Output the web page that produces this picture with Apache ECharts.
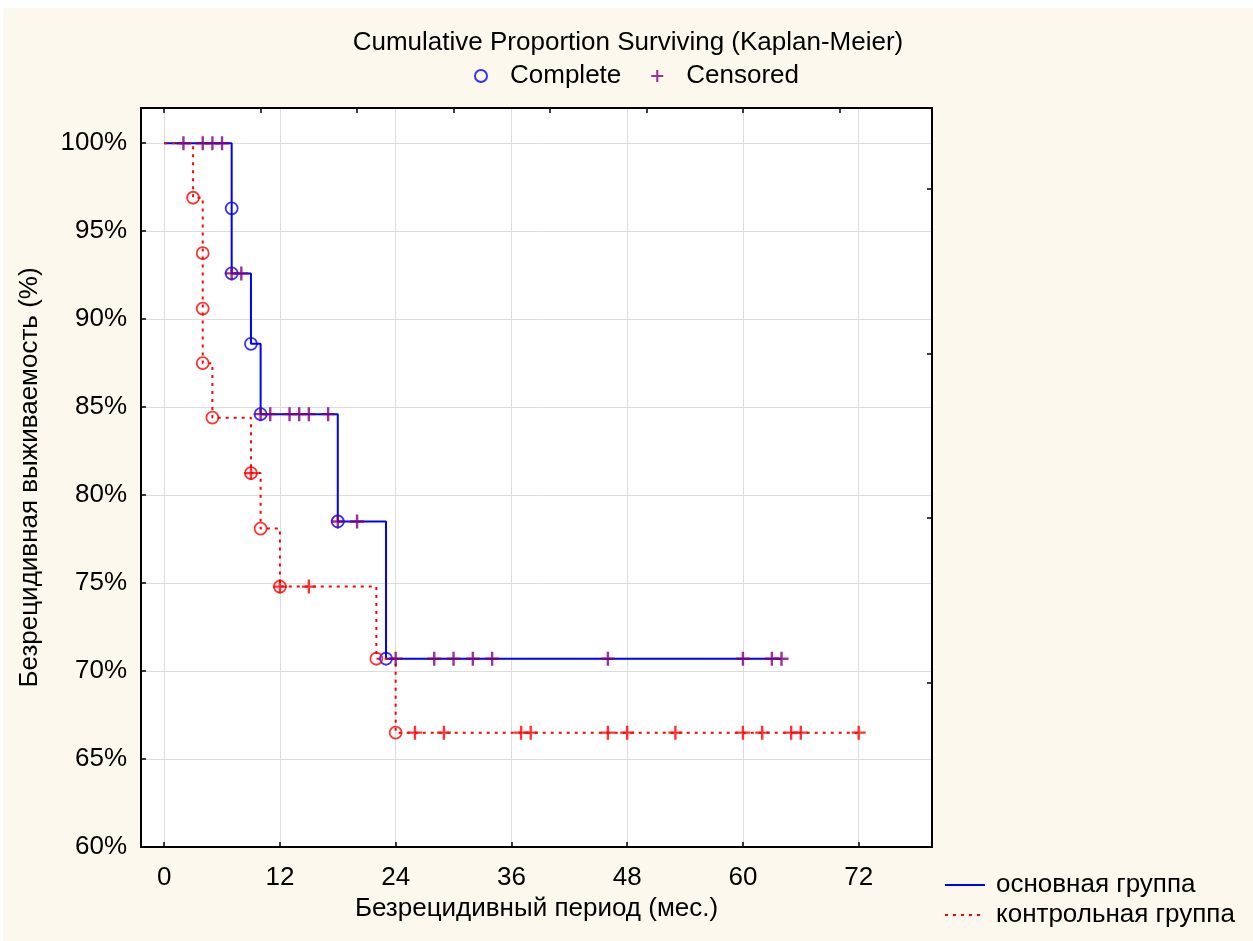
<!DOCTYPE html>
<html>
<head>
<meta charset="utf-8">
<script src="https://cdn.jsdelivr.net/npm/echarts@6/dist/echarts.min.js"></script>
<style>
html, body { margin: 0; padding: 0; background: #fff; }
#chart { position: absolute; left: 3px; top: 8px; width: 1250px; height: 933px; }
</style>
</head>
<body>
<div id="chart"></div>
<script>
// основная группа (main group): step curve, events, censored times
var mainCurve = [[0, 100], [7, 92.6], [9, 88.6], [10, 84.6], [18, 78.5], [23, 70.7], [64, 70.7]];
var mainComplete = [[7, 96.3], [7, 92.6], [9, 88.6], [10, 84.6], [18, 78.5], [23, 70.7]];
var mainCensored = [[2, 100], [4, 100], [5, 100], [6, 100], [7, 92.6], [8, 92.6],
    [10, 84.6], [11, 84.6], [13, 84.6], [14, 84.6], [15, 84.6], [17, 84.6],
    [18, 78.5], [20, 78.5], [24, 70.7], [28, 70.7], [30, 70.7], [32, 70.7], [34, 70.7],
    [46, 70.7], [60, 70.7], [63, 70.7], [64, 70.7]];

// контрольная группа (control group)
var ctrlCurve = [[0, 100], [3, 96.9], [4, 87.5], [5, 84.4], [9, 81.25], [10, 78.1], [12, 74.8], [22, 70.7], [24, 66.5], [72, 66.5]];
var ctrlComplete = [[3, 96.9], [4, 93.75], [4, 90.6], [4, 87.5], [5, 84.4], [9, 81.25], [10, 78.1], [12, 74.8], [22, 70.7], [24, 66.5]];
var ctrlCensored = [[9, 81.25], [12, 74.8], [15, 74.8], [26, 66.5], [29, 66.5], [37, 66.5], [38, 66.5],
    [46, 66.5], [48, 66.5], [53, 66.5], [60, 66.5], [62, 66.5], [65, 66.5], [66, 66.5], [72, 66.5]];

var xTicks = [0, 12, 24, 36, 48, 60, 72];
var xTopTicks = [0, 10, 20, 30, 40, 50, 60, 70];
var yTicks = [60, 65, 70, 75, 80, 85, 90, 95, 100];
var yRightTicks = [69.35, 78.7, 88.05, 97.4];

var FONT = 'Liberation Sans, Arial, sans-serif';
var FS = 26;
var plusPath = 'path://M-1.2,-7L1.2,-7L1.2,7L-1.2,7Z M-7,-1.2L7,-1.2L7,1.2L-7,1.2Z';

var chart = echarts.init(document.getElementById('chart'));

function frameAxis(extra) {
    var base = {
        type: 'value',
        axisLine: { show: true, onZero: false, lineStyle: { color: '#000', width: 2 } },
        axisTick: { show: true, inside: true, length: 5, lineStyle: { color: '#000', width: 1.5 } },
        axisLabel: { show: false },
        splitLine: { show: false }
    };
    return Object.assign(base, extra);
}

var option = {
    animation: false,
    backgroundColor: '#fdf8ee',
    textStyle: { fontFamily: FONT },
    title: {
        text: 'Cumulative Proportion Surviving (Kaplan-Meier)',
        left: 'center',
        top: 17,
        textStyle: { fontFamily: FONT, fontSize: FS, fontWeight: 'normal', color: '#000' }
    },
    legend: [{
        data: ['Complete', 'Censored'],
        left: 471,
        top: 55,
        padding: 0,
        itemWidth: 12,
        itemHeight: 12,
        itemGap: 30,
        selectedMode: false,
        textStyle: { fontFamily: FONT, fontSize: FS, color: '#000', padding: [0, 0, 0, 18] }
    }, {
        data: ['основная группа', 'контрольная группа'],
        orient: 'vertical',
        left: 941,
        top: 864,
        padding: 0,
        itemWidth: 40,
        itemHeight: 14,
        itemGap: 4,
        selectedMode: false,
        itemStyle: { opacity: 0, borderWidth: 0 },
        textStyle: { fontFamily: FONT, fontSize: FS, color: '#000', padding: [0, 0, 0, 6] }
    }],
    grid: {
        left: 138, top: 100, width: 791, height: 739,
        show: true, backgroundColor: '#fff', borderWidth: 0
    },
    xAxis: [
        frameAxis({
            position: 'bottom', min: -2.4, max: 79.6,
            axisTick: { show: true, inside: true, length: 5, customValues: xTicks, lineStyle: { color: '#000', width: 1.5 } },
            axisLabel: { show: true, customValues: xTicks, margin: 18, fontSize: FS, color: '#000', fontFamily: FONT },
            splitLine: { show: true, lineStyle: { color: '#dcdcdc', width: 1 } },
            name: 'Безрецидивный период (мес.)',
            nameLocation: 'middle',
            nameGap: 47,
            nameTextStyle: { fontFamily: FONT, fontSize: FS, color: '#000' }
        }),
        frameAxis({
            position: 'top', min: -2.4, max: 79.6,
            axisTick: { show: true, inside: true, length: 5, customValues: xTopTicks, lineStyle: { color: '#000', width: 1.5 } }
        })
    ],
    yAxis: [
        frameAxis({
            position: 'left', min: 60, max: 102,
            axisTick: { show: true, inside: true, length: 5, customValues: yTicks, lineStyle: { color: '#000', width: 1.5 } },
            axisLabel: { show: true, customValues: yTicks, formatter: '{value}%', margin: 14, fontSize: FS, color: '#000', fontFamily: FONT },
            splitLine: { show: true, lineStyle: { color: '#dcdcdc', width: 1 } },
            name: 'Безрецидивная выживаемость (%)',
            nameLocation: 'middle',
            nameGap: 98,
            nameTextStyle: { fontFamily: FONT, fontSize: FS, color: '#000' }
        }),
        frameAxis({
            position: 'right', min: 60, max: 102,
            axisTick: { show: true, inside: true, length: 5, customValues: yRightTicks, lineStyle: { color: '#000', width: 1.5 } }
        })
    ],
    series: [{
        name: 'основная группа',
        type: 'line',
        step: 'end',
        data: mainCurve,
        symbol: 'none',
        itemStyle: { color: '#0000ff' },
        lineStyle: { color: '#0000ff', width: 2 },
        z: 2
    }, {
        name: 'контрольная группа',
        type: 'line',
        step: 'end',
        data: ctrlCurve,
        symbol: 'none',
        itemStyle: { color: '#ff0000' },
        lineStyle: { color: '#ff0000', width: 2, type: [3, 5] },
        z: 3
    }, {
        name: 'Complete',
        type: 'scatter',
        data: mainComplete,
        symbol: 'circle',
        symbolSize: 12,
        itemStyle: { color: 'rgba(0,0,0,0)', borderColor: '#0000ff', borderWidth: 1.8 },
        z: 4
    }, {
        name: 'Complete',
        type: 'scatter',
        data: ctrlComplete,
        symbol: 'circle',
        symbolSize: 12,
        itemStyle: { color: 'rgba(0,0,0,0)', borderColor: '#ff0000', borderWidth: 1.8 },
        z: 4
    }, {
        name: 'Censored',
        type: 'scatter',
        data: mainCensored,
        symbol: plusPath,
        symbolSize: 14,
        itemStyle: { color: '#800080' },
        z: 5
    }, {
        name: 'Censored',
        type: 'scatter',
        data: ctrlCensored,
        symbol: plusPath,
        symbolSize: 14,
        itemStyle: { color: '#ff0000' },
        z: 5
    }]
};

chart.setOption(option);
</script>
</body>
</html>
